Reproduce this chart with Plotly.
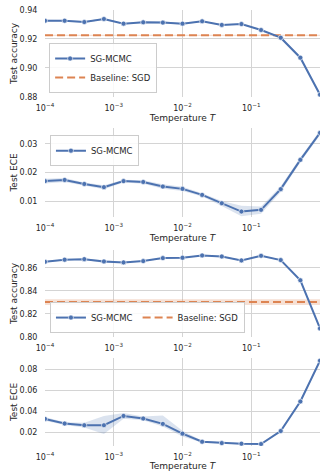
import plotly.graph_objects as go

# ---------------- data ----------------
temps = [1.0e-4, 1.931e-4, 3.728e-4, 7.197e-4, 1.389e-3, 2.683e-3, 5.179e-3,
         1.0e-2, 1.931e-2, 3.728e-2, 7.197e-2, 0.1389, 0.2683, 0.5179, 1.0]
x_tickvals = [1e-4, 1e-3, 1e-2, 1e-1, 1.0]
x_ticktext = ["10<sup>−4</sup>", "10<sup>−3</sup>", "10<sup>−2</sup>", "10<sup>−1</sup>", "10<sup>0</sup>"]

# panel 1: accuracy (dataset A)
acc1 = [0.9326, 0.9326, 0.9317, 0.9338, 0.9306, 0.9315, 0.9313, 0.9306,
        0.9322, 0.9297, 0.9303, 0.9262, 0.9209, 0.9071, 0.8816]
acc1_lo = [0.9320, 0.9321, 0.9312, 0.9333, 0.9301, 0.9309, 0.9305, 0.9301,
           0.9318, 0.9293, 0.9299, 0.9258, 0.9204, 0.9063, 0.8810]
acc1_hi = [0.9332, 0.9331, 0.9322, 0.9343, 0.9311, 0.9321, 0.9321, 0.9311,
           0.9326, 0.9301, 0.9307, 0.9266, 0.9214, 0.9079, 0.8822]
base1 = 0.9225
base1_lo = 0.9221
base1_hi = 0.9229

# panel 2: ECE (dataset A)
ece1 = [0.0170, 0.0174, 0.0160, 0.0149, 0.0170, 0.0167, 0.0151, 0.0143,
        0.0122, 0.0093, 0.0064, 0.0070, 0.0142, 0.0244, 0.0338]
ece1_lo = [0.0162, 0.0167, 0.0155, 0.0142, 0.0165, 0.0161, 0.0143, 0.0136,
           0.0116, 0.0083, 0.0048, 0.0056, 0.0132, 0.0236, 0.0330]
ece1_hi = [0.0178, 0.0181, 0.0165, 0.0156, 0.0175, 0.0173, 0.0159, 0.0150,
           0.0128, 0.0101, 0.0084, 0.0082, 0.0152, 0.0252, 0.0346]

# panel 3: accuracy (dataset B)
acc2 = [0.8651, 0.8669, 0.8674, 0.8654, 0.8646, 0.8657, 0.8683, 0.8686,
        0.8706, 0.8697, 0.8663, 0.8703, 0.8666, 0.8491, 0.8074]
acc2_lo = [0.8646, 0.8665, 0.8669, 0.8640, 0.8641, 0.8653, 0.8678, 0.8682,
           0.8702, 0.8693, 0.8658, 0.8698, 0.8660, 0.8485, 0.8066]
acc2_hi = [0.8656, 0.8673, 0.8679, 0.8668, 0.8651, 0.8661, 0.8688, 0.8690,
           0.8710, 0.8701, 0.8668, 0.8708, 0.8672, 0.8497, 0.8082]
base2 = 0.8303
base2_lo = 0.8278
base2_hi = 0.8327

# panel 4: ECE (dataset B)
ece2 = [0.0328, 0.0283, 0.0267, 0.0267, 0.0356, 0.0331, 0.0280, 0.0187,
        0.0110, 0.0097, 0.0091, 0.0088, 0.0212, 0.0494, 0.0884]
ece2_lo = [0.0310, 0.0270, 0.0245, 0.0184, 0.0330, 0.0315, 0.0255, 0.0160,
           0.0100, 0.0090, 0.0085, 0.0082, 0.0200, 0.0480, 0.0870]
ece2_hi = [0.0345, 0.0296, 0.0290, 0.0355, 0.0385, 0.0350, 0.0360, 0.0215,
           0.0120, 0.0104, 0.0097, 0.0094, 0.0225, 0.0508, 0.0898]

# ---------------- style ----------------
BLUE = "#4C72B0"
ORANGE = "#DD8452"
BLUE_BAND = "rgba(76,114,176,0.2)"
ORANGE_BAND = "rgba(221,132,82,0.25)"
TXT = "#262626"
GRID = "#d4d4d4"
FONT = "DejaVu Sans"

fig = go.Figure()


def band(xs, lo, hi, color, ax):
    fig.add_trace(go.Scatter(
        x=list(xs) + list(xs)[::-1], y=list(hi) + list(lo)[::-1],
        fill="toself", fillcolor=color, line=dict(width=0),
        mode="lines", hoverinfo="skip", showlegend=False,
        xaxis="x" + ax, yaxis="y" + ax))


def mcmc(y, ax, legend=None):
    fig.add_trace(go.Scatter(
        x=temps, y=y, mode="lines+markers", name="SG-MCMC",
        line=dict(color=BLUE, width=2),
        marker=dict(color=BLUE, size=5, line=dict(color="white", width=0.6)),
        showlegend=legend is not None, legend=legend or "legend",
        xaxis="x" + ax, yaxis="y" + ax))


def baseline(b, lo, hi, ax, legend=None):
    xs = [temps[0], temps[-1]]
    band(xs, [lo, lo], [hi, hi], ORANGE_BAND, ax)
    fig.add_trace(go.Scatter(
        x=xs, y=[b, b], mode="lines", name="Baseline: SGD",
        line=dict(color=ORANGE, width=2, dash="8px,4px"),
        showlegend=legend is not None, legend=legend or "legend",
        xaxis="x" + ax, yaxis="y" + ax))


# panel 1
band(temps, acc1_lo, acc1_hi, BLUE_BAND, "")
baseline(base1, base1_lo, base1_hi, "", legend="legend")
mcmc(acc1, "", legend="legend")
# panel 2
band(temps, ece1_lo, ece1_hi, BLUE_BAND, "2")
mcmc(ece1, "2", legend="legend2")
# panel 3
band(temps, acc2_lo, acc2_hi, BLUE_BAND, "3")
baseline(base2, base2_lo, base2_hi, "3", legend="legend3")
mcmc(acc2, "3", legend="legend3")
# panel 4
band(temps, ece2_lo, ece2_hi, BLUE_BAND, "4")
mcmc(ece2, "4")

# ---------------- layout ----------------
TEMP_TITLE = "Temperature <i>T</i>"
y_domains = [(0.8005, 1.0), (0.5252, 0.7294), (0.25, 0.4495), (0.0, 0.2018)]
y_ranges = [(0.88, 0.94), (0.0045, 0.0355), (0.80, 0.8753), (0.0069, 0.0909)]
y_ticks = [[0.88, 0.90, 0.92, 0.94], [0.01, 0.02, 0.03],
           [0.80, 0.82, 0.84, 0.86], [0.02, 0.04, 0.06, 0.08]]
y_titles = ["Test accuracy", "Test ECE", "Test accuracy", "Test ECE"]
x_titles = [TEMP_TITLE, TEMP_TITLE, "", TEMP_TITLE]

layout = dict(
    width=327, height=471,
    margin=dict(l=45, r=7, t=10, b=25),
    paper_bgcolor="white", plot_bgcolor="white",
    font=dict(family=FONT, size=8, color=TXT),
    template="none",
)

for i in range(4):
    sfx = "" if i == 0 else str(i + 1)
    anchor = "y" + sfx
    layout["xaxis" + sfx] = dict(
        type="log", range=[-4, 0], domain=[0, 1], anchor=anchor,
        tickvals=x_tickvals, ticktext=x_ticktext,
        showgrid=True, gridcolor=GRID, gridwidth=1,
        zeroline=False, showline=False,
        ticks="outside", ticklen=3, tickcolor="rgba(0,0,0,0)",
        tickfont=dict(size=8, color=TXT, family=FONT),
        title=dict(text=x_titles[i], font=dict(size=9, color=TXT, family=FONT), standoff=2),
        automargin=False,
    )
    layout["yaxis" + sfx] = dict(
        range=list(y_ranges[i]), domain=list(y_domains[i]), anchor="x" + sfx,
        tickvals=y_ticks[i], tickformat=".2f",
        showgrid=True, gridcolor=GRID, gridwidth=1,
        zeroline=False, showline=False,
        ticks="outside", ticklen=5, tickcolor="rgba(0,0,0,0)",
        tickfont=dict(size=8, color=TXT, family=FONT),
        title=dict(text=y_titles[i], font=dict(size=9, color=TXT, family=FONT), standoff=0),
        automargin=False,
    )

legend_common = dict(
    bgcolor="rgba(255,255,255,0.85)", bordercolor="#cccccc", borderwidth=1,
    font=dict(size=8.5, color=TXT, family=FONT),
    xref="paper", yref="paper", xanchor="left", itemwidth=30,
    tracegroupgap=0,
)
layout["legend"] = dict(legend_common, x=0.015, y=0.8096, yanchor="bottom",
                        orientation="v", traceorder="reversed")
layout["legend2"] = dict(legend_common, x=0.018, y=0.713, yanchor="top", orientation="v")
layout["legend3"] = dict(legend_common, x=0.018, y=0.259, yanchor="bottom",
                         orientation="h", traceorder="reversed")

fig.update_layout(**layout)
fig.write_html("out.html", config={"displayModeBar": False},
               post_script="document.body.style.margin='0';")
